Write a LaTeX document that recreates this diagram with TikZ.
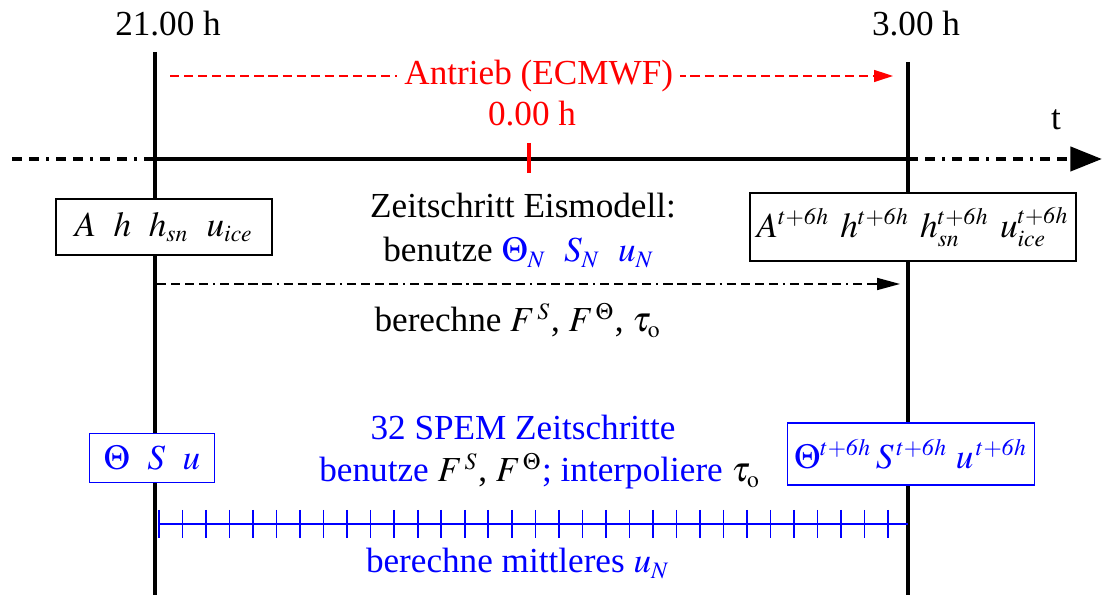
\documentclass[tikz,border=0pt]{standalone}
\usepackage{mathptmx}
\usepackage[no-math]{fontspec}
\setmainfont{Liberation Serif}
\usepackage{tikz}
\usetikzlibrary{shapes,arrows,arrows.meta,positioning}
\DeclareMathSizes{10}{10}{6.7}{5}
\newcommand\sixh{t+\mathit{6}h}

\begin{document}
\begin{tikzpicture}[x=0.01cm,y=-0.01cm,
  font=\fontsize{10}{12.5}\selectfont,
  timeline/.style={line width=1.4pt},
  axisdots/.style={line width=1.3pt,dash pattern=on 2.85pt off 2pt on 2.85pt off 2pt on 0.85pt off 2pt},
  statebox/.style={draw,line width=0.45pt,fill=white,inner sep=0pt},
  oceanbox/.style={statebox,draw=blue,text=blue},
  stepline/.style={line width=0.45pt,dash pattern=on 2.6pt off 1.4pt on 2.6pt off 1.4pt on 2.6pt off 1.4pt on 2.6pt off 1.4pt on 0.6pt off 1.4pt,-{Triangle[length=6.5pt,width=3.4pt]}},
  forcing/.style={red,line width=0.45pt,dash pattern=on 2.6pt off 1.4pt,-{Triangle[length=5.4pt,width=3.4pt]}},
  spemtick/.style={blue,line width=0.45pt}]
\useasboundingbox (0,0) rectangle (1102,595);
% time lines at 21.00 h and 3.00 h
\coordinate (L0) at (155,52);
\coordinate (L1) at (155,595);
\coordinate (R0) at (908,62);
\coordinate (R1) at (908,595);
\draw[timeline] (L0) -- (L1);
\draw[timeline] (R0) -- (R1);
\node[anchor=base] (t21) at (168,36) {21.00 h};
\node[anchor=base] (t3) at (916,36) {3.00 h};
% time axis
\coordinate (ax0) at (12,159);
\coordinate (axL) at (155,159);
\coordinate (axR) at (908,159);
\coordinate (ax1) at (1102,159);
\draw[axisdots] (ax0) -- (axL);
\draw[line width=1.3pt] (axL) -- (axR);
\draw[axisdots,-{Triangle[length=9pt,width=6.8pt]}] (axR) -- (ax1);
\node[anchor=base] (tlab) at (1056,130) {t};
\coordinate (m0) at (529,143);
\coordinate (m1) at (529,173);
\draw[red,line width=1.4pt] (m0) -- (m1);
\node[anchor=base,red] (t0) at (532,126) {0.00 h};
% forcing
\coordinate (f0) at (170,76);
\coordinate (f1) at (893,76);
\draw[forcing] (f0) -- node[pos=0.51,fill=white,inner sep=2pt,text=red] (forc) {Antrieb (ECMWF)} (f1);
% ice model step
\node[statebox,minimum width=2.16cm,minimum height=0.56cm] (ice0) at (164,227) {$A\hspace{0.5em}h\hspace{0.5em}h_{sn}\hspace{0.5em}u_{ice}$};
\node[statebox,minimum width=3.26cm,minimum height=0.68cm] (ice1) at (913,227) {$A^{\sixh}\hspace{0.3em}h^{\sixh}\hspace{0.3em}h_{sn}^{\sixh}\hspace{0.3em}u_{ice}^{\sixh}$};
\node[anchor=base] (eis) at (523,218) {Zeitschritt Eismodell:};
\node[anchor=base] (eisuse) at (519,262) {benutze \textcolor{blue}{$\Theta_N\enspace S_N\enspace u_N$}};
\coordinate (s0) at (157,284);
\coordinate (s1) at (900,284);
\draw[stepline] (s0) -- (s1);
\node[anchor=base] (eisflux) at (518,332) {berechne $F^{\,S}$, $F^{\,\Theta}$, $\tau_{\mathrm{o}}$};
% ocean model steps
\node[oceanbox,minimum width=1.25cm,minimum height=0.49cm] (oc0) at (152,458) {$\Theta\enspace S\enspace u$};
\node[oceanbox,minimum width=2.47cm,minimum height=0.62cm] (oc1) at (911,454) {$\Theta^{\sixh}\,S^{\,\sixh}\;u^{\,\sixh}$};
\node[anchor=base,blue] (spem) at (523,440) {32 SPEM Zeitschritte};
\node[anchor=base,blue] (spemuse) at (540,482) {benutze \textcolor{black}{$F^{\,S}$, $F^{\,\Theta}$}; interpoliere \textcolor{black}{$\tau_{\mathrm{o}}$}};
\coordinate (p0) at (158,524);
\coordinate (p1) at (908,524);
\draw[spemtick] (p0) -- (p1);
\foreach \i in {0,...,31}
  \draw[spemtick] (159+\i*23.52,510) -- ++(0,28);
\node[anchor=base,blue] (spemmean) at (518,573) {berechne mittleres $u_N$};
\end{tikzpicture}
\end{document}
